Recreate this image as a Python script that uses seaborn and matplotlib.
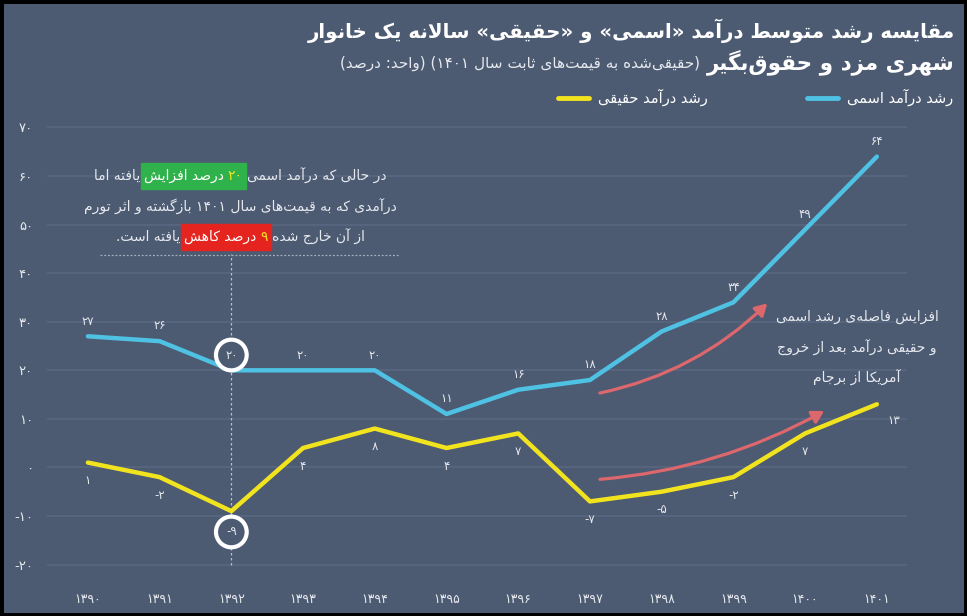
import re
import pandas as pd
import matplotlib.pyplot as plt
import seaborn as sns
from matplotlib.patches import Rectangle, FancyArrowPatch
from matplotlib.lines import Line2D

# data
years = [1390, 1391, 1392, 1393, 1394, 1395, 1396, 1397, 1398, 1399, 1400, 1401]
nominal = [27, 26, 20, 20, 20, 11, 16, 18, 28, 34, 49, 64]
real = [1, -2, -9, 4, 8, 4, 7, -7, -5, -2, 7, 13]
y_ticks = [-20, -10, 0, 10, 20, 30, 40, 50, 60, 70]

title_1 = "مقایسه رشد متوسط درآمد «اسمی» و «حقیقی» سالانه یک خانوار"
title_2 = "شهری مزد و حقوق\u200cبگیر"
subtitle = "(حقیقی\u200cشده به قیمت\u200cهای ثابت سال ۱۴۰۱) (واحد: درصد)"
legend_nominal = "رشد درآمد اسمی"
legend_real = "رشد درآمد حقیقی"
note_right = ["افزایش فاصله\u200cی رشد اسمی", "و حقیقی درآمد بعد از خروج", "آمریکا از برجام"]

BG = "#4c5a72"
GRID = "#5a6882"
CYAN = "#4fc1e3"
YELLOW = "#f2e31f"
ARROW = "#dc676d"
GREEN = "#2fb24b"
RED = "#e5231f"
TXT = "#e6e9ee"

# --- minimal persian shaping (no arabic_reshaper available) ---
FORMS = {
    'ء': (0xFE80, 'n'), 'آ': (0xFE81, 'r'), 'أ': (0xFE83, 'r'), 'ؤ': (0xFE85, 'r'),
    'إ': (0xFE87, 'r'), 'ئ': (0xFE89, 'd'), 'ا': (0xFE8D, 'r'), 'ب': (0xFE8F, 'd'),
    'ة': (0xFE93, 'r'), 'ت': (0xFE95, 'd'), 'ث': (0xFE99, 'd'), 'ج': (0xFE9D, 'd'),
    'ح': (0xFEA1, 'd'), 'خ': (0xFEA5, 'd'), 'د': (0xFEA9, 'r'), 'ذ': (0xFEAB, 'r'),
    'ر': (0xFEAD, 'r'), 'ز': (0xFEAF, 'r'), 'س': (0xFEB1, 'd'), 'ش': (0xFEB5, 'd'),
    'ص': (0xFEB9, 'd'), 'ض': (0xFEBD, 'd'), 'ط': (0xFEC1, 'd'), 'ظ': (0xFEC5, 'd'),
    'ع': (0xFEC9, 'd'), 'غ': (0xFECD, 'd'), 'ف': (0xFED1, 'd'), 'ق': (0xFED5, 'd'),
    'ك': (0xFED9, 'd'), 'ل': (0xFEDD, 'd'), 'م': (0xFEE1, 'd'), 'ن': (0xFEE5, 'd'),
    'ه': (0xFEE9, 'd'), 'و': (0xFEED, 'r'), 'ى': (0xFEEF, 'r'), 'ي': (0xFEF1, 'd'),
    'پ': (0xFB56, 'd'), 'چ': (0xFB7A, 'd'), 'ژ': (0xFB8A, 'r'), 'ک': (0xFB8E, 'd'),
    'گ': (0xFB92, 'd'), 'ی': (0xFBFC, 'd'),
}
LAM_ALEF = {'آ': 0xFEF5, 'أ': 0xFEF7, 'إ': 0xFEF9, 'ا': 0xFEFB}
MIRROR = {'(': ')', ')': '(', '«': '»', '»': '«'}


def shape(s):
    out = []
    i, n = 0, len(s)
    while i < n:
        c = s[i]
        if c not in FORMS:
            if c != '\u200c':
                out.append(c)
            i += 1
            continue
        prev = s[i - 1] if i > 0 else ''
        link_prev = prev in FORMS and FORMS[prev][1] == 'd'
        if c == 'ل' and i + 1 < n and s[i + 1] in LAM_ALEF:
            out.append(chr(LAM_ALEF[s[i + 1]] + (1 if link_prev else 0)))
            i += 2
            continue
        nxt = s[i + 1] if i + 1 < n else ''
        base, kind = FORMS[c]
        link_next = kind == 'd' and nxt in FORMS and FORMS[nxt][1] != 'n'
        if kind == 'n':
            code = base
        elif link_prev and link_next:
            code = base + 3
        elif link_prev:
            code = base + 1
        elif link_next:
            code = base + 2
        else:
            code = base
        out.append(chr(code))
        i += 1
    return ''.join(out)


def fa(s):
    tokens = re.findall(r'[0-9۰-۹]+|[^0-9۰-۹]', shape(s))
    return ''.join(MIRROR.get(t, t) for t in tokens[::-1])


def pdig(v):
    return str(v).translate(str.maketrans('0123456789', '۰۱۲۳۴۵۶۷۸۹'))


W, H = 967, 616


def px(x, y):
    return x / W, 1 - y / H


sns.set_theme(style="whitegrid", rc={"axes.facecolor": BG, "figure.facecolor": BG,
                                     "grid.color": GRID, "axes.edgecolor": BG})
plt.rcParams['font.family'] = ['DejaVu Sans']

fig = plt.figure(figsize=(W / 100, H / 100), dpi=100)
ax = fig.add_axes([47 / W, 1 - 579.6 / H, 860 / W, 466.2 / H])

df = pd.DataFrame({
    'year': years * 2,
    'value': nominal + real,
    'series': ['nominal'] * len(years) + ['real'] * len(years),
})
sns.lineplot(data=df, x='year', y='value', hue='series',
             palette={'nominal': CYAN, 'real': YELLOW}, lw=3.2, legend=False,
             ax=ax, solid_joinstyle='round', solid_capstyle='round', zorder=3)

ax.set_xlim(1389.43, 1401.42)
ax.set_ylim(-23.1, 72.9)
ax.set_xticks(years)
ax.set_xticklabels([pdig(y) for y in years])
ax.set_yticks(y_ticks)
ax.set_yticklabels([pdig(v) for v in y_ticks])
ax.tick_params(axis='y', length=0, pad=10, labelsize=9.5, labelcolor=TXT)
ax.tick_params(axis='x', length=0, pad=10, labelsize=9, labelcolor=TXT)
ax.set_xlabel('')
ax.set_ylabel('')
ax.xaxis.grid(False)
ax.yaxis.grid(True, color=GRID, lw=1.1)
for sp in ax.spines.values():
    sp.set_visible(False)

hl = years.index(1392)
for i, (x, v) in enumerate(zip(years, nominal)):
    kw = {}
    if i == hl:
        kw = dict(bbox=dict(boxstyle='circle,pad=0.75', fc=BG, ec='white', lw=3))
    ax.annotate(pdig(v), (x, v), xytext=(0, 11), textcoords='offset points',
                ha='center', va='center', fontsize=8.5, color=TXT, zorder=5, **kw)
for i, (x, v) in enumerate(zip(years, real)):
    kw = {}
    off = (0, -13)
    if i == hl:
        kw = dict(bbox=dict(boxstyle='circle,pad=0.75', fc=BG, ec='white', lw=3))
        off = (0, -15)
    if i == len(years) - 1:
        off = (12, -12)
    ax.annotate(pdig(v), (x, v), xytext=off, textcoords='offset points',
                ha='center', va='center', fontsize=8.5, color=TXT, zorder=5, **kw)

# dotted marker for 1392
ax.vlines(years[hl], -20, 44, colors='#b8c0cc', lw=0.9, linestyles=(0, (2, 2)), zorder=2)
fig.add_artist(Line2D([100 / W, 400 / W], [1 - 255 / H] * 2, color='#a8b0be', lw=0.9,
                      ls=(0, (1.5, 1.5))))

# arrows showing widening gap
arrows = [((years[7] + 0.1, 15.2), (years[9] + 0.5, 34.2), 0.15),
          ((years[7] + 0.1, -2.5), (years[10] + 0.3, 11.9), 0.11)]
for start, end, rad in arrows:
    ax.add_patch(FancyArrowPatch(start, end, connectionstyle=f'arc3,rad={rad}',
                                 arrowstyle='-|>,head_length=7,head_width=4',
                                 color=ARROW, lw=2.3, zorder=2))

# title
fig.text(*px(955, 31), fa(title_1), ha='right', va='center', fontsize=14.2,
         fontweight='bold', color='white')
t2 = fig.text(*px(955, 62), fa(title_2), ha='right', va='center', fontsize=15.5,
              fontweight='bold', color='white')
renderer = fig.canvas.get_renderer()
left = t2.get_window_extent(renderer).x0
fig.text((left - 7) / W, 1 - 63 / H, fa(subtitle), ha='right', va='center',
         fontsize=11, color=TXT)

# legend
for label, col, right in [(legend_nominal, CYAN, 953), (legend_real, YELLOW, 708)]:
    t = fig.text(*px(right, 97), fa(label), ha='right', va='center', fontsize=10.5,
                 color='white')
    x0 = t.get_window_extent(renderer).x0
    fig.add_artist(Line2D([(x0 - 40) / W, (x0 - 9) / W], [1 - 98 / H] * 2,
                          color=col, lw=3.5))


def rich_line(segments, cx, cy, size=10, gap=4):
    # segments in logical (right to left) order: (text, color, background)
    texts = []
    for s, col, bg in segments:
        t = fig.text(0, 1 - cy / H, fa(s), ha='right', va='center', fontsize=size, color=col)
        texts.append((t, bg))
    widths = [t.get_window_extent(renderer).width for t, _ in texts]
    total = sum(widths) + gap * (len(widths) - 1)
    x = cx + total / 2
    boxes = {}
    for (t, bg), w in zip(texts, widths):
        t.set_x(x / W)
        if bg:
            x0, x1 = boxes.get(bg, (x - w, x))
            boxes[bg] = (min(x0, x - w), max(x1, x))
        x -= w + gap
    for bg, (x0, x1) in boxes.items():
        fig.add_artist(Rectangle(((x0 - 3) / W, 1 - (cy + 13) / H), (x1 - x0 + 6) / W,
                                 26 / H, color=bg, zorder=0.5))


rich_line([("در حالی که درآمد اسمی", TXT, None), ("۲۰", YELLOW, GREEN),
           ("درصد افزایش", 'white', GREEN), ("یافته اما", TXT, None)], 240, 176)
rich_line([("درآمدی که به قیمت\u200cهای سال ۱۴۰۱ بازگشته و اثر تورم", TXT, None)], 240, 207)
rich_line([("از آن خارج شده", TXT, None), ("۹", YELLOW, RED),
           ("درصد کاهش", 'white', RED), ("یافته است.", TXT, None)], 240, 237)

for k, line in enumerate(note_right):
    fig.text(*px(857, 317 + 30.5 * k), fa(line), ha='center', va='center',
             fontsize=10, color=TXT)

# frame
fig.add_artist(Rectangle((0, 0), 1, 1, transform=fig.transFigure, fill=False,
                         ec='black', lw=5))

fig.savefig('out.png', dpi=100, facecolor=BG)
